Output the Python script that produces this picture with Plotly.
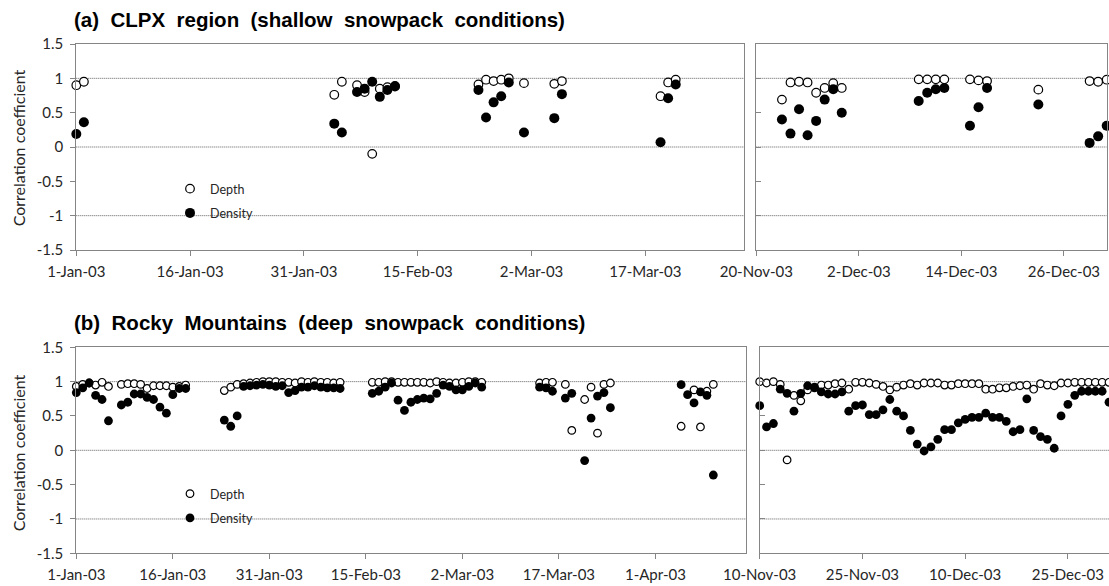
import pandas as pd
import plotly.graph_objects as go

# ---------------- data ----------------
# (a) CLPX region, winter/spring 2003
clpx_spring_dates = [
    "2003-01-01", "2003-01-02",
    "2003-02-04", "2003-02-05", "2003-02-07", "2003-02-08", "2003-02-09",
    "2003-02-10", "2003-02-11", "2003-02-12",
    "2003-02-23", "2003-02-24", "2003-02-25", "2003-02-26", "2003-02-27",
    "2003-03-01", "2003-03-05", "2003-03-06",
    "2003-03-19", "2003-03-20", "2003-03-21",
]
clpx_spring_depth = [
    0.90, 0.95,
    0.76, 0.95, 0.90, 0.80, -0.10, 0.85, 0.87, 0.89,
    0.91, 0.98, 0.96, 0.98, 1.00,
    0.93, 0.92, 0.96,
    0.74, 0.94, 0.98,
]
clpx_spring_density = [
    0.19, 0.36,
    0.34, 0.21, 0.80, 0.85, 0.95, 0.73, 0.83, 0.88,
    0.83, 0.43, 0.65, 0.74, 0.94,
    0.21, 0.42, 0.77,
    0.07, 0.71, 0.91,
]

# (a) CLPX region, late 2003
clpx_fall_dates = [
    "2003-11-23", "2003-11-24", "2003-11-25", "2003-11-26", "2003-11-27",
    "2003-11-28", "2003-11-29", "2003-11-30",
    "2003-12-09", "2003-12-10", "2003-12-11", "2003-12-12",
    "2003-12-15", "2003-12-16", "2003-12-17",
    "2003-12-23",
    "2003-12-29", "2003-12-30", "2003-12-31",
]
clpx_fall_depth = [
    0.69, 0.94, 0.95, 0.94, 0.79, 0.86, 0.93, 0.86,
    0.985, 0.985, 0.985, 0.985,
    0.985, 0.97, 0.96,
    0.835,
    0.96, 0.95, 0.98,
]
clpx_fall_density = [
    0.40, 0.195, 0.55, 0.17, 0.38, 0.69, 0.84, 0.50,
    0.67, 0.79, 0.84, 0.86,
    0.31, 0.58, 0.86,
    0.62,
    0.06, 0.155, 0.31,
]

# (b) Rocky Mountains, winter/spring 2003
rocky_spring_dates = [
    "2003-01-01", "2003-01-02", "2003-01-03", "2003-01-04", "2003-01-05", "2003-01-06",
    "2003-01-08", "2003-01-09", "2003-01-10", "2003-01-11", "2003-01-12", "2003-01-13",
    "2003-01-14", "2003-01-15", "2003-01-16", "2003-01-17", "2003-01-18",
    "2003-01-24", "2003-01-25", "2003-01-26",
    "2003-01-27", "2003-01-28", "2003-01-29", "2003-01-30", "2003-01-31", "2003-02-01",
    "2003-02-02", "2003-02-03", "2003-02-04", "2003-02-05", "2003-02-06", "2003-02-07",
    "2003-02-08", "2003-02-09", "2003-02-10", "2003-02-11",
    "2003-02-16", "2003-02-17", "2003-02-18", "2003-02-19", "2003-02-20", "2003-02-21",
    "2003-02-22", "2003-02-23", "2003-02-24", "2003-02-25", "2003-02-26", "2003-02-27",
    "2003-02-28", "2003-03-01", "2003-03-02", "2003-03-03", "2003-03-04", "2003-03-05",
    "2003-03-14", "2003-03-15", "2003-03-16", "2003-03-18", "2003-03-19",
    "2003-03-21", "2003-03-22", "2003-03-23", "2003-03-24", "2003-03-25",
    "2003-04-05", "2003-04-06", "2003-04-07", "2003-04-08", "2003-04-09", "2003-04-10",
]
rocky_spring_depth = [
    0.93, 0.96, 0.98, 0.95, 0.99, 0.93,
    0.96, 0.97, 0.97, 0.96, 0.90, 0.94,
    0.94, 0.94, 0.92, 0.93, 0.95,
    0.87, 0.92, 0.96,
    0.97, 0.98, 0.99, 1.00, 1.00, 1.00,
    0.99, 0.99, 0.98, 1.00, 0.99, 1.00,
    0.99, 0.99, 0.98, 0.99,
    0.99, 0.99, 1.00, 1.00, 0.99, 0.99,
    0.99, 0.99, 0.99, 0.98, 1.00, 0.99,
    0.98, 0.98, 0.99, 1.00, 1.00, 0.99,
    0.98, 0.99, 0.99, 0.96, 0.29,
    0.74, 0.92, 0.25, 0.96, 0.98,
    0.35, None, 0.88, 0.34, 0.86, 0.96,
]
rocky_spring_density = [
    0.84, 0.91, 0.98, 0.80, 0.74, 0.43,
    0.66, 0.70, 0.82, 0.82, 0.77, 0.74,
    0.63, 0.54, 0.81, 0.90, 0.90,
    0.44, 0.35, 0.50,
    0.93, 0.94, 0.95, 0.96, 0.95, 0.93,
    0.94, 0.84, 0.87, 0.92, 0.92, 0.94,
    0.92, 0.91, 0.91, 0.90,
    0.83, 0.86, 0.92, 0.98, 0.73, 0.58,
    0.70, 0.74, 0.76, 0.75, 0.83, 0.95,
    0.93, 0.88, 0.88, 0.93, 0.98, 0.92,
    0.92, 0.91, 0.86, 0.76, 0.83,
    -0.15, 0.47, 0.79, 0.84, 0.62,
    0.955, 0.81, 0.69, 0.85, 0.80, -0.36,
]

# (b) Rocky Mountains, daily from 10 Nov to 31 Dec 2003
rocky_fall_dates = pd.date_range("2003-11-10", "2003-12-31", freq="D")
rocky_fall_depth = [
    1.00, 0.98, 1.00, 0.96, -0.14, 0.80, 0.72, 0.88, 0.91, 0.95,
    0.95, 0.97, 0.98, 0.89, 0.99, 0.99, 0.98, 0.96, 0.93, 0.88,
    0.92, 0.95, 0.97, 0.95, 0.98, 0.98, 0.98, 0.95, 0.95, 0.97,
    0.97, 0.97, 0.97, 0.89, 0.89, 0.91, 0.91, 0.93, 0.94, 0.95,
    0.89, 0.97, 0.95, 0.94, 0.98, 0.98, 0.99, 0.99, 0.99, 0.99,
    0.99, 0.99,
]
rocky_fall_density = [
    0.65, 0.34, 0.39, 0.89, 0.83, 0.57, 0.83, 0.94, 0.92, 0.85,
    0.82, 0.82, 0.85, 0.57, 0.65, 0.66, 0.52, 0.52, 0.59, 0.74,
    0.57, 0.50, 0.29, 0.09, -0.01, 0.05, 0.16, 0.30, 0.30, 0.40,
    0.45, 0.48, 0.48, 0.54, 0.48, 0.48, 0.42, 0.27, 0.30, 0.75,
    0.29, 0.20, 0.16, 0.03, 0.50, 0.67, 0.80, 0.86, 0.86, 0.86,
    0.86, 0.70,
]

y_tick_values = [-1.5, -1, -0.5, 0, 0.5, 1, 1.5]
y_tick_labels = ["-1.5", "-1", "-0.5", "0", "0.5", "1", "1.5"]
grid_levels = [1, 0, -1]

panel_titles = [
    "(a) CLPX region (shallow snowpack conditions)",
    "(b) Rocky Mountains (deep snowpack conditions)",
]

# ---------------- layout geometry (pixels) ----------------
W, H = 1109, 586


def fx(p):
    return p / W


def fy(p):
    return 1 - p / H


FONT = "Lato"
AXIS_COLOR = "#858585"
TEXT_COLOR = "#262626"
DAY = 86400000

panels = [
    # (x axis, y axis, x range, tick start, tick step in days, x px span, y px span, left panel?)
    ("x", "y", ["2003-01-01", "2003-03-30"], "2003-01-01", 15, (76.3, 744.0), (44.0, 250.0), True),
    ("x2", "y2", ["2003-11-20", "2003-12-31"], "2003-11-20", 12, (756.3, 1106.7), (44.0, 250.0), False),
    ("x3", "y3", ["2003-01-01", "2003-04-15"], "2003-01-01", 15, (76.3, 745.5), (347.3, 553.3), True),
    ("x4", "y4", ["2003-11-10", "2003-12-31"], "2003-11-10", 15, (759.7, 1109.0), (347.3, 553.3), False),
]

series = [
    (clpx_spring_dates, clpx_spring_depth, clpx_spring_density, "legend", 8.6, 10.0),
    (clpx_fall_dates, clpx_fall_depth, clpx_fall_density, "legend", 8.6, 10.0),
    (rocky_spring_dates, rocky_spring_depth, rocky_spring_density, "legend2", 7.6, 8.8),
    (rocky_fall_dates, rocky_fall_depth, rocky_fall_density, "legend2", 7.6, 8.8),
]

fig = go.Figure()

for i, (panel, data) in enumerate(zip(panels, series)):
    xa, ya = panel[0], panel[1]
    dates, depth, density, leg, s_open, s_fill = data
    show = i in (0, 2)
    fig.add_trace(go.Scatter(
        x=dates, y=depth, mode="markers", name="Depth",
        xaxis=xa, yaxis=ya, legend=leg, legendgroup=f"depth{leg}",
        showlegend=show, cliponaxis=False,
        marker=dict(symbol="circle", size=s_open, color="white",
                    line=dict(color="black", width=1.2)),
    ))
    fig.add_trace(go.Scatter(
        x=dates, y=density, mode="markers", name="Density",
        xaxis=xa, yaxis=ya, legend=leg, legendgroup=f"density{leg}",
        showlegend=show, cliponaxis=False,
        marker=dict(symbol="circle", size=s_fill, color="black", line=dict(width=0)),
    ))

layout_axes = {}
for xa, ya, xr, t0, step, (x0, x1), (y0, y1), left in panels:
    xkey = "xaxis" + xa[1:]
    ykey = "yaxis" + ya[1:]
    layout_axes[xkey] = dict(
        type="date", range=xr, tick0=t0, dtick=step * DAY, tickformat="%-d-%b-%y",
        domain=[fx(x0), fx(x1)], anchor=ya,
        showline=True, linecolor=AXIS_COLOR, linewidth=1, mirror=True,
        ticks="outside", ticklen=5, tickcolor=AXIS_COLOR, showgrid=False, zeroline=False,
        ticklabelstandoff=3,
        tickfont=dict(family=FONT, size=15, color=TEXT_COLOR), automargin=False,
    )
    layout_axes[ykey] = dict(
        range=[-1.5, 1.5], tickmode="array", tickvals=y_tick_values, ticktext=y_tick_labels,
        domain=[fy(y1), fy(y0)], anchor=xa,
        showline=True, linecolor=AXIS_COLOR, linewidth=1, mirror=True,
        ticks="outside" if left else "inside", ticklen=5, tickcolor=AXIS_COLOR,
        showticklabels=left, showgrid=False, zeroline=False,
        ticklabelstandoff=4,
        tickfont=dict(family=FONT, size=15, color=TEXT_COLOR), automargin=False,
    )
fig.update_layout(**layout_axes)

# fine dotted reference lines at r = 1, 0, -1
for xa, ya, *_ in panels:
    for level in grid_levels:
        fig.add_shape(type="line", xref=f"{xa} domain", yref=ya, x0=0, x1=1,
                      y0=level, y1=level, layer="below",
                      line=dict(color="#5e5e5e", width=1, dash="1px,1px"))

annotations = []
for title, yc in zip(panel_titles, (20, 322)):
    spaced = title.replace(" ", " \u00a0")
    annotations.append(dict(
        text=f"<b>{spaced}</b>", xref="paper", yref="paper", x=fx(72), y=fy(yc),
        xanchor="left", yanchor="middle", showarrow=False,
        font=dict(family="Liberation Sans", size=20.5, color="black"),
    ))
for yc in (148, 453):
    annotations.append(dict(
        text="Correlation coefficient", xref="paper", yref="paper", x=fx(18.3), y=fy(yc),
        xanchor="center", yanchor="middle", textangle=-90, showarrow=False,
        font=dict(family=FONT, size=16, color=TEXT_COLOR),
    ))

legend_style = dict(
    bgcolor="rgba(0,0,0,0)", borderwidth=0, xanchor="left", yanchor="top",
    font=dict(family=FONT, size=12.5, color=TEXT_COLOR), tracegroupgap=5,
    traceorder="grouped", itemwidth=30,
)
fig.update_layout(
    width=W, height=H, margin=dict(l=0, r=0, t=0, b=0),
    paper_bgcolor="white", plot_bgcolor="white",
    annotations=annotations,
    legend=dict(x=fx(170), y=fy(174), **legend_style),
    legend2=dict(x=fx(170), y=fy(479), **legend_style),
    showlegend=True,
)

fig.write_html("out.html")
